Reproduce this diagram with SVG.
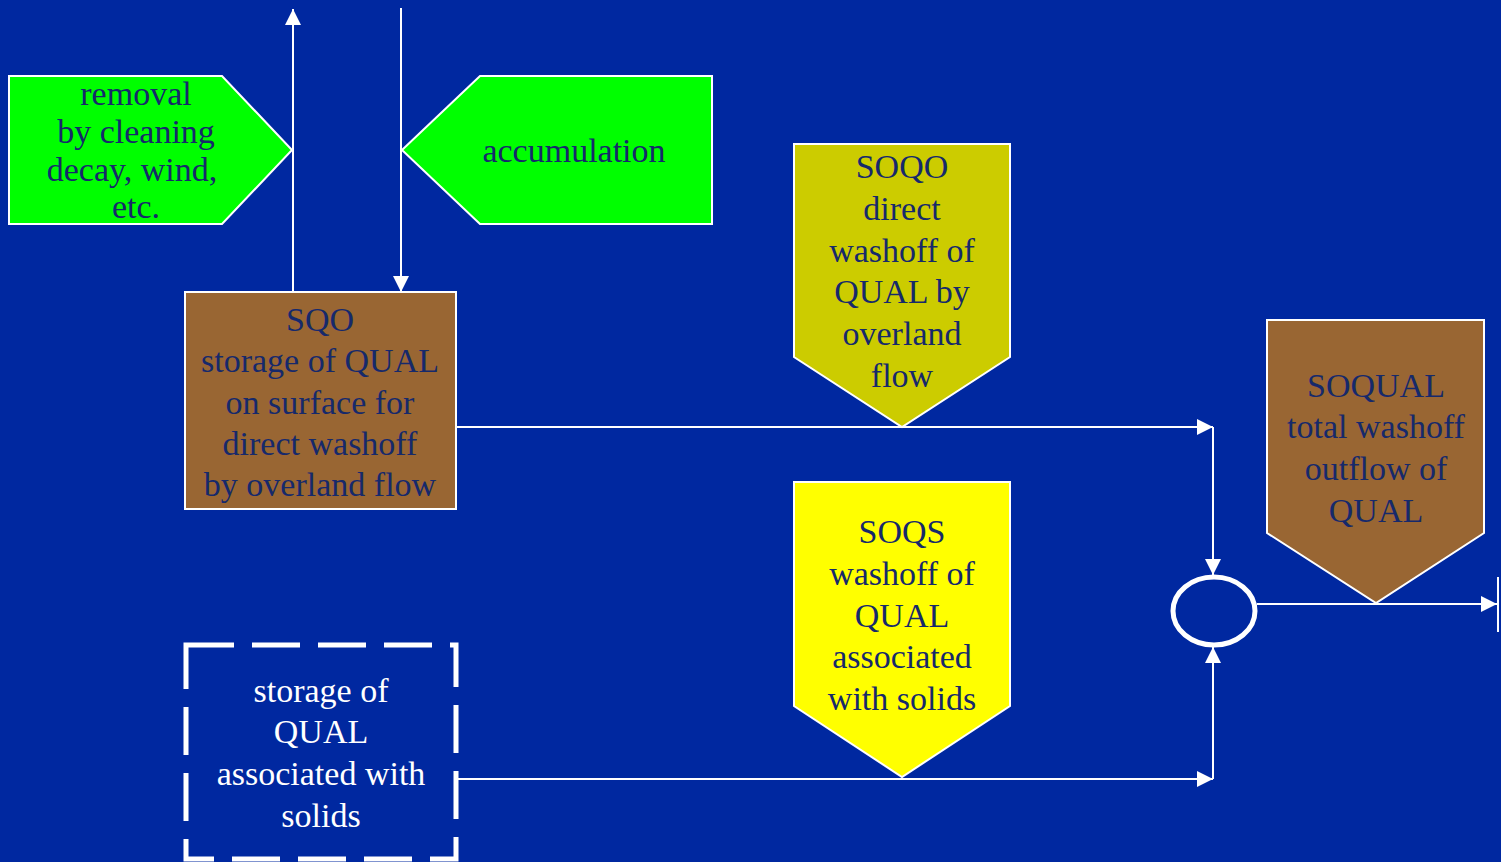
<svg xmlns="http://www.w3.org/2000/svg" width="1501" height="862" viewBox="0 0 1501 862" font-family="'Liberation Serif', 'Times New Roman', Times, serif">
<defs>
<style>
text{font-family:'Liberation Serif','Times New Roman',Times,serif}
.t{font-size:34px;fill:#16296b;text-anchor:middle}
.w{fill:#ffffff}
.ln{stroke:#ffffff;stroke-width:2;fill:none}
.box{stroke:#ffffff;stroke-width:2}
</style>
<marker id="ah" viewBox="0 0 16 16" refX="16" refY="8" markerWidth="16" markerHeight="16" markerUnits="userSpaceOnUse" orient="auto">
<path d="M0,0 L16,8 L0,16 Z" fill="#ffffff"/>
</marker>
</defs>
<rect width="1501" height="862" fill="#0028a0"/>
<g id="connectors">
<line class="ln" x1="293" y1="292" x2="293" y2="9" marker-end="url(#ah)"/>
<line class="ln" x1="401" y1="8" x2="401" y2="292" marker-end="url(#ah)"/>
<line class="ln" x1="456" y1="427" x2="1213" y2="427" marker-end="url(#ah)"/>
<line class="ln" x1="1213" y1="427" x2="1213" y2="575" marker-end="url(#ah)"/>
<line class="ln" x1="456" y1="779" x2="1213" y2="779" marker-end="url(#ah)"/>
<line class="ln" x1="1213" y1="779" x2="1213" y2="647" marker-end="url(#ah)"/>
<line class="ln" x1="1257" y1="604" x2="1497" y2="604" marker-end="url(#ah)"/>
<line class="ln" x1="1498" y1="577" x2="1498" y2="632"/>
</g>
<g id="removal">
<polygon class="box" points="9,76 222,76 292,150 222,224 9,224" fill="#00ff00"/>
<text class="t" x="136" y="105">removal</text>
<text class="t" x="136" y="143">by cleaning</text>
<text class="t" x="132" y="181">decay, wind,</text>
<text class="t" x="136" y="218">etc.</text>
</g>
<g id="accumulation">
<polygon class="box" points="402,150 480,76 712,76 712,224 480,224" fill="#00ff00"/>
<text class="t" x="574" y="162">accumulation</text>
</g>
<g id="sqo">
<rect class="box" x="185" y="292" width="271" height="217" fill="#996633"/>
<text class="t" x="320" y="331">SQO</text>
<text class="t" x="320" y="372">storage of QUAL</text>
<text class="t" x="320" y="414">on surface for</text>
<text class="t" x="320" y="455">direct washoff</text>
<text class="t" x="320" y="496">by overland flow</text>
</g>
<g id="soqo">
<polygon class="box" points="794,144 1010,144 1010,357 902,427 794,357" fill="#cccc00"/>
<text class="t" x="902" y="178">SOQO</text>
<text class="t" x="902" y="220">direct</text>
<text class="t" x="902" y="262">washoff of</text>
<text class="t" x="902" y="303">QUAL by</text>
<text class="t" x="902" y="345">overland</text>
<text class="t" x="902" y="387">flow</text>
</g>
<g id="soqs">
<polygon class="box" points="794,482 1010,482 1010,706 902,777 794,706" fill="#ffff00"/>
<text class="t" x="902" y="543">SOQS</text>
<text class="t" x="902" y="585">washoff of</text>
<text class="t" x="902" y="627">QUAL</text>
<text class="t" x="902" y="668">associated</text>
<text class="t" x="902" y="710">with solids</text>
</g>
<g id="soqual">
<polygon class="box" points="1267,320 1484,320 1484,533 1376,603 1267,533" fill="#996633"/>
<text class="t" x="1376" y="397">SOQUAL</text>
<text class="t" x="1376" y="438">total washoff</text>
<text class="t" x="1376" y="480">outflow of</text>
<text class="t" x="1376" y="522">QUAL</text>
</g>
<g id="junction">
<ellipse cx="1214" cy="611" rx="41" ry="34" fill="none" stroke="#ffffff" stroke-width="5"/>
</g>
<g id="solids-storage">
<rect x="186" y="645" width="270" height="214" fill="none" stroke="#ffffff" stroke-width="5" stroke-dasharray="48 18"/>
<text class="t w" x="321" y="702">storage of</text>
<text class="t w" x="321" y="743">QUAL</text>
<text class="t w" x="321" y="785">associated with</text>
<text class="t w" x="321" y="827">solids</text>
</g>
</svg>
